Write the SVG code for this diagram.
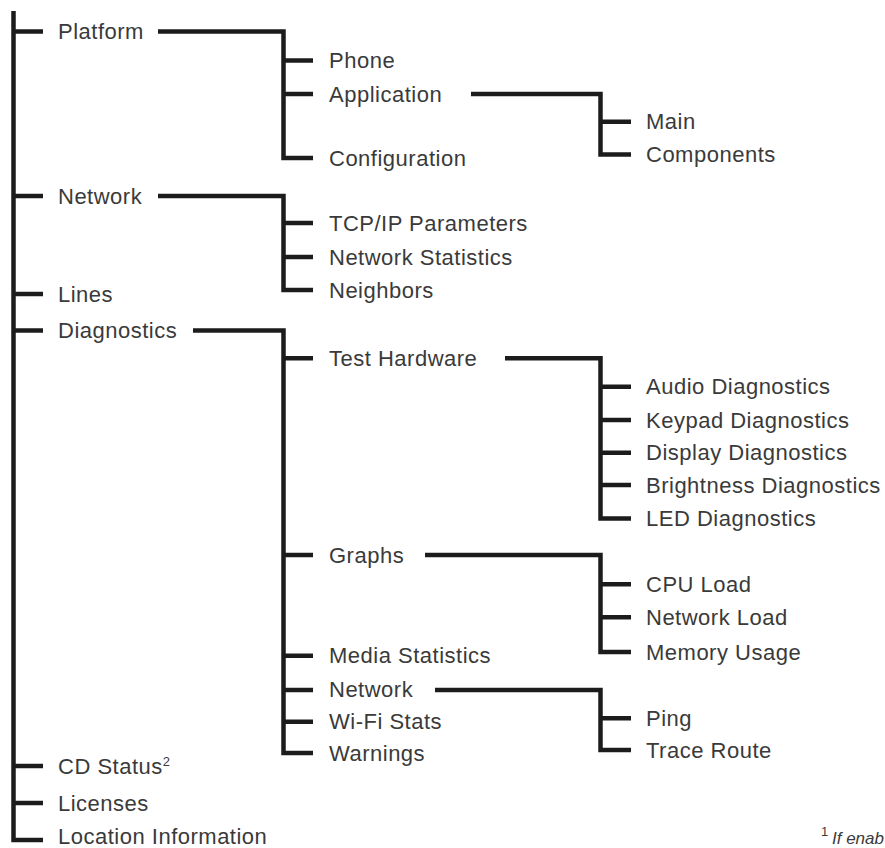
<svg xmlns="http://www.w3.org/2000/svg" width="885" height="848" viewBox="0 0 885 848">
<style>
.c path{fill:none;stroke:#1c1c1c;stroke-width:4.5;stroke-linejoin:miter;stroke-linecap:butt}
text{font-family:"Liberation Sans",Arial,Helvetica,sans-serif;font-size:22px;fill:#3a3a3a;letter-spacing:0.5px}
.sup{font-size:13px;letter-spacing:0}
.note{font-style:italic;font-size:17px;letter-spacing:0}
</style>
<rect width="885" height="848" fill="#ffffff"/>
<g class="c" id="connectors">
<path d="M13.5,11 V840 H43"/>
<path d="M13.5,31.5 H43 M13.5,196 H43 M13.5,294 H43 M13.5,330.5 H43 M13.5,766 H43 M13.5,803 H43"/>
<path d="M158,31.5 H283.5 V158 H313 M283.5,60.5 H313 M283.5,94 H313"/>
<path d="M471,94 H600.5 V154.5 H631 M600.5,121.7 H631"/>
<path d="M158,196 H283.5 V290 H313 M283.5,223 H313 M283.5,257 H313"/>
<path d="M193,330.5 H283.5 V753 H313 M283.5,358.3 H313 M283.5,555 H313 M283.5,655.7 H313 M283.5,690 H313 M283.5,721.7 H313"/>
<path d="M505,358.3 H600.5 V518.5 H631 M600.5,386.7 H631 M600.5,420 H631 M600.5,452.7 H631 M600.5,485 H631"/>
<path d="M425,555 H600.5 V652 H631 M600.5,584.3 H631 M600.5,617.3 H631"/>
<path d="M435,690 H600.5 V750 H631 M600.5,718.3 H631"/>
</g>
<g id="n-platform"><text x="58" y="39">Platform</text></g>
<g id="n-phone"><text x="329" y="68">Phone</text></g>
<g id="n-application"><text x="329" y="101.5">Application</text></g>
<g id="n-main"><text x="646" y="129">Main</text></g>
<g id="n-components"><text x="646" y="162">Components</text></g>
<g id="n-configuration"><text x="329" y="165.5">Configuration</text></g>
<g id="n-network"><text x="58" y="203.5">Network</text></g>
<g id="n-tcpip"><text x="329" y="230.5">TCP/IP Parameters</text></g>
<g id="n-netstats"><text x="329" y="264.5">Network Statistics</text></g>
<g id="n-neighbors"><text x="329" y="297.5">Neighbors</text></g>
<g id="n-lines"><text x="58" y="301.5">Lines</text></g>
<g id="n-diagnostics"><text x="58" y="338">Diagnostics</text></g>
<g id="n-testhw"><text x="329" y="366">Test Hardware</text></g>
<g id="n-audio"><text x="646" y="394">Audio Diagnostics</text></g>
<g id="n-keypad"><text x="646" y="427.5">Keypad Diagnostics</text></g>
<g id="n-display"><text x="646" y="460">Display Diagnostics</text></g>
<g id="n-brightness"><text x="646" y="492.5">Brightness Diagnostics</text></g>
<g id="n-led"><text x="646" y="526">LED Diagnostics</text></g>
<g id="n-graphs"><text x="329" y="562.5">Graphs</text></g>
<g id="n-cpu"><text x="646" y="592">CPU Load</text></g>
<g id="n-netload"><text x="646" y="625">Network Load</text></g>
<g id="n-memory"><text x="646" y="659.5">Memory Usage</text></g>
<g id="n-media"><text x="329" y="663">Media Statistics</text></g>
<g id="n-diagnetwork"><text x="329" y="697">Network</text></g>
<g id="n-ping"><text x="646" y="726">Ping</text></g>
<g id="n-trace"><text x="646" y="758">Trace Route</text></g>
<g id="n-wifi"><text x="329" y="729">Wi-Fi Stats</text></g>
<g id="n-warnings"><text x="329" y="760.5">Warnings</text></g>
<g id="n-cdstatus"><text x="58" y="773.5">CD Status<tspan class="sup" dy="-8">2</tspan></text></g>
<g id="n-licenses"><text x="58" y="810.5">Licenses</text></g>
<g id="n-location"><text x="58" y="843.5">Location Information</text></g>
<g id="footnote"><text x="821" y="836" class="sup">1</text><text x="832" y="844" class="note">If enab</text></g>
</svg>
